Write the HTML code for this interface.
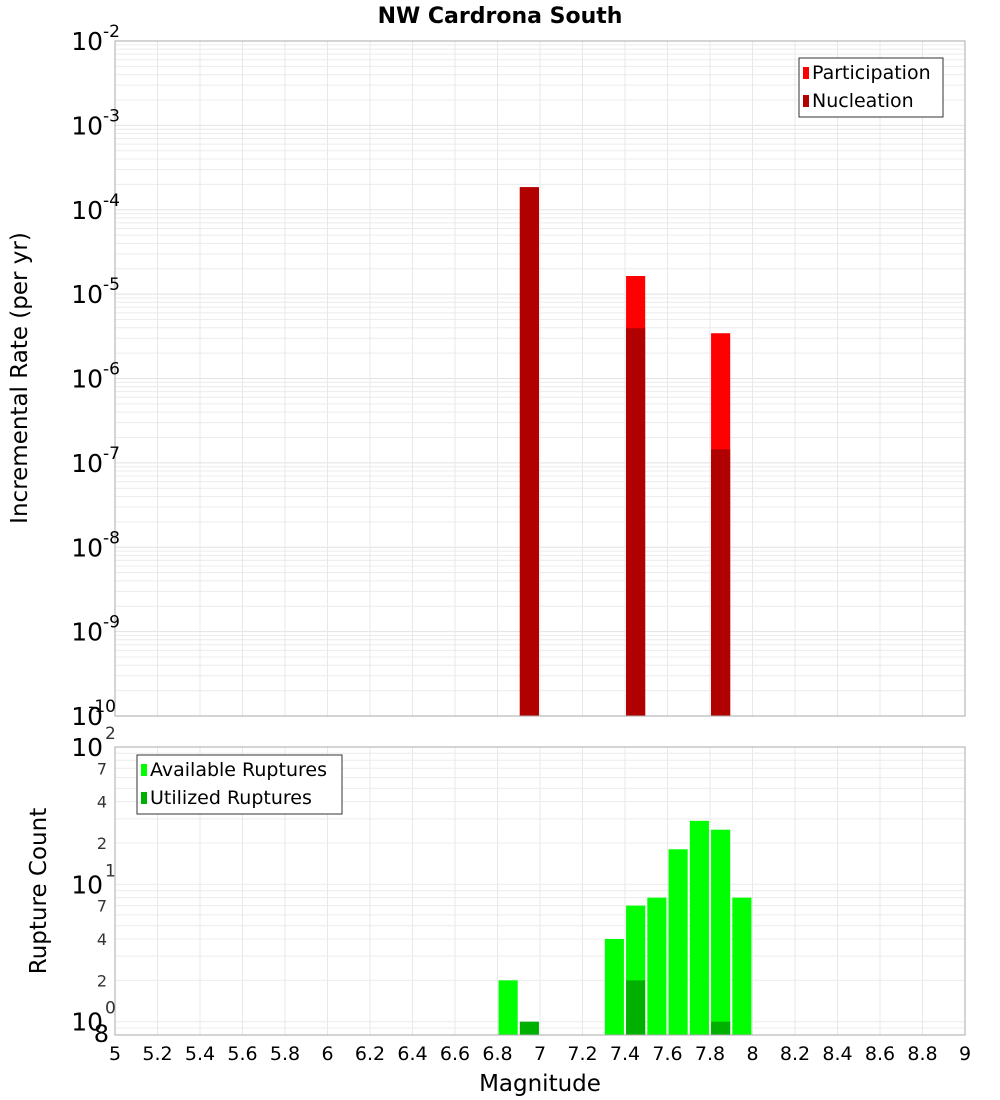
<!DOCTYPE html>
<html><head><meta charset="utf-8"><style>
body{margin:0;background:#fff;}
svg{display:block;font-family:"DejaVu Sans","Liberation Sans",sans-serif;}
</style></head><body>
<svg id="chart" width="1000" height="1100" viewBox="0 0 1000 1100" xmlns="http://www.w3.org/2000/svg">
<text x="500" y="23" text-anchor="middle" font-size="22" font-weight="bold">NW Cardrona South</text>
<g id="top"></g><g id="bot"></g>
<text transform="translate(27,378) rotate(-90)" text-anchor="middle" font-size="23">Incremental Rate (per yr)</text>
<text transform="translate(46,891) rotate(-90)" text-anchor="middle" font-size="23">Rupture Count</text>
<text x="540" y="1091" text-anchor="middle" font-size="23">Magnitude</text>
</svg>
<script>
const rateMags = [6.95, 7.45, 7.85];
const participation = [1.85e-4, 1.64e-5, 3.44e-6];
const nucleation = [1.85e-4, 3.94e-6, 1.45e-7];
const countMags = [6.85, 6.95, 7.35, 7.45, 7.55, 7.65, 7.75, 7.85, 7.95];
const available = [2, 0, 4, 7, 8, 18, 29, 25, 8];
const utilized = [0, 1, 0, 2, 0, 0, 0, 1, 0];
const xTicks = [5,5.2,5.4,5.6,5.8,6,6.2,6.4,6.6,6.8,7,7.2,7.4,7.6,7.8,8,8.2,8.4,8.6,8.8,9];
const topDecades = [-2,-3,-4,-5,-6,-7,-8,-9,-10];

const NS="http://www.w3.org/2000/svg";
const svg=document.getElementById('chart');
function mk(tag,attrs,parent,txt){const e=document.createElementNS(NS,tag);for(const k in attrs)e.setAttribute(k,attrs[k]);if(txt!==undefined)e.textContent=txt;(parent||svg).appendChild(e);return e;}
const X0=115,X1=965;
const xs=m=>X0+(m-5)/4*(X1-X0);
const T0=41,T1=716;
const yTop=v=>T0+(-2-Math.log10(v))/8*(T1-T0);
const B0=747,B1=1035;
const yBot=v=>B0+(2-Math.log10(v))/Math.log10(125)*(B1-B0);
const bw=0.09*(X1-X0)/4;
const gT=document.getElementById('top'), gB=document.getElementById('bot');

for(let d=-10;d<-2;d++){for(let k=1;k<10;k++){const y=yTop(k*Math.pow(10,d));if(y<T0)continue;
const l=mk('line',{x1:X0,x2:X1,y1:y,y2:y,stroke:k==1?'#e2e2e2':'#ececec','stroke-width':1},gT);
}}
xTicks.forEach(t=>{const x=xs(t);
const l=mk('line',{x1:x,x2:x,y1:T0,y2:T1,stroke:'#e8e8e8'},gT);
const l2=mk('line',{x1:x,x2:x,y1:B0,y2:B1,stroke:'#e8e8e8'},gB);});
[0.8,0.9,1,2,3,4,5,6,7,8,9,10,20,30,40,50,60,70,80,90].forEach(v=>{const y=yBot(v);
const l=mk('line',{x1:X0,x2:X1,y1:y,y2:y,stroke:'#ececec'},gB);});

rateMags.forEach((m,i)=>{const x=xs(m)-bw/2;
const p=mk('rect',{x:x,y:yTop(participation[i]),width:bw,height:T1-yTop(participation[i]),fill:'#ff0000'},gT);

const n=mk('rect',{x:x,y:yTop(nucleation[i]),width:bw,height:T1-yTop(nucleation[i]),fill:'#b00000'},gT);
});
countMags.forEach((m,i)=>{const x=xs(m)-bw/2;
if(available[i]>0){const a=mk('rect',{x:x,y:yBot(available[i]),width:bw,height:B1-yBot(available[i]),fill:'#00ff00'},gB);
}
if(utilized[i]>0){const u=mk('rect',{x:x,y:yBot(utilized[i]),width:bw,height:B1-yBot(utilized[i]),fill:'#00b000'},gB);
}});

const f1=mk('rect',{x:X0,y:T0,width:X1-X0,height:T1-T0,fill:'none',stroke:'#aaa'});
const f2=mk('rect',{x:X0,y:B0,width:X1-X0,height:B1-B0,fill:'none',stroke:'#aaa'});

topDecades.forEach(d=>{const y=yTop(Math.pow(10,d));
const t=mk('text',{x:103,y:y+9,'text-anchor':'end','font-size':25},svg,'10');
const s=mk('text',d==-10?{x:116,y:y-4,'text-anchor':'end','font-size':17}:{x:103,y:y-4,'text-anchor':'start','font-size':17},svg,'-'+String(-d));});
[[100,'2'],[10,'1'],[1,'0']].forEach(([v,e])=>{const y=yBot(v);
const t=mk('text',{x:103,y:y+9,'text-anchor':'end','font-size':25},svg,'10');
const s=mk('text',{x:105,y:y-8,'text-anchor':'start','font-size':17,fill:'#333'},svg,e);});
[70,40,20,7,4,2].forEach(v=>{const y=yBot(v);const s=mk('text',{x:107,y:y+6,'text-anchor':'end','font-size':16,fill:'#333'},svg,String(v).charAt(0));
});
{const s=mk('text',{x:109,y:1042,'text-anchor':'end','font-size':24},svg,'8');}
xTicks.forEach(t=>{const s=mk('text',{x:xs(t),y:1060,'text-anchor':'middle','font-size':19},svg,String(t));
});

function legend(x,y,w,items,name){const g=mk('g',{});
mk('rect',{x:x,y:y,width:w,height:59,fill:'#fff',stroke:'#333'},g);
items.forEach(([c,l],i)=>{const e=mk('g',{},g);
mk('rect',{x:x+4,y:y+9+i*28,width:6,height:12,fill:c},e);
mk('text',{x:x+13,y:y+21+i*28,'font-size':19},e,l);});}
legend(799,58,144,[['#ff0000','Participation'],['#b00000','Nucleation']],'top-legend');
legend(137,755,205,[['#00ff00','Available Ruptures'],['#00b000','Utilized Ruptures']],'bottom-legend');
</script>
</body></html>
